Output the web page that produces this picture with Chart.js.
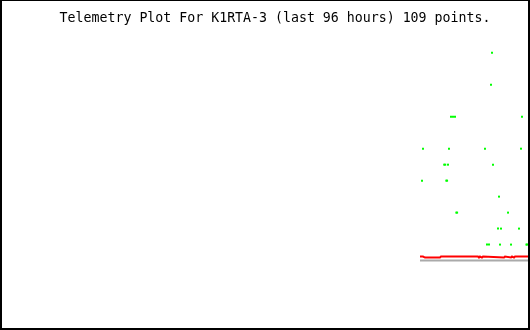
<!DOCTYPE html>
<html>
<head>
<meta charset="utf-8">
<script src="https://cdn.jsdelivr.net/npm/chart.js@4/dist/chart.umd.min.js"></script>
<style>
  body { margin: 0; background: #fff; }
  .frame {
    width: 530px; height: 330px; box-sizing: border-box;
    border: 2px solid #000; border-top-width: 1px; background: #fff;
  }
  canvas { display: block; }
</style>
</head>
<body>
<div class="frame"><canvas id="telemetry" width="526" height="327"></canvas></div>
<script>
// hours relative to now (last 96 hours)
const redHours = [-20.49, -19.92, -19.54, -16.70, -16.51, -9.49, -9.30, -9.11, -8.73, -8.54,
  -4.55, -4.36, -3.22, -3.03, -2.65, -2.46, 0];
const redValues = [0.25, 0.25, 0.19, 0.19, 0.25, 0.25, 0.19, 0.25, 0.19, 0.25,
  0.19, 0.25, 0.19, 0.25, 0.19, 0.25, 0.25];

const greyHours = [-20.49, 0];
const greyValues = [0, 0];

const greenHours = [-6.83, -7.02, -14.61, -14.23, -13.85, -1.14,
  -19.92, -14.99, -8.16, -1.33,
  -15.9, -15.7, -15.18, -6.64,
  -20.11, -15.5, -15.35,
  -5.5,
  -13.6, -13.45, -3.79,
  -5.69, -5.12, -1.71,
  -7.78, -7.4, -5.31, -3.22, -0.3, -0.15];
const greenValues = [13, 11, 9, 9, 9, 9,
  7, 7, 7, 7,
  6, 6, 6, 6,
  5, 5, 5,
  4,
  3, 3, 3,
  2, 2, 2,
  1, 1, 1, 1, 1, 1];

function toPoints(xs, ys) {
  return xs.map((x, i) => ({ x: x, y: ys[i] }));
}

const ctx = document.getElementById('telemetry').getContext('2d');
new Chart(ctx, {
  type: 'scatter',
  data: {
    datasets: [
      {
        label: 'baseline',
        data: toPoints(greyHours, greyValues),
        showLine: true,
        borderColor: '#aaaaaa',
        borderWidth: 2,
        pointRadius: 0
      },
      {
        label: 'red',
        data: toPoints(redHours, redValues),
        showLine: true,
        borderColor: '#ff0000',
        borderWidth: 2,
        pointRadius: 0,
        tension: 0
      },
      {
        label: 'green',
        data: toPoints(greenHours, greenValues),
        showLine: false,
        pointStyle: 'rect',
        pointRadius: 1.4,
        pointBorderWidth: 0,
        backgroundColor: '#00ff00',
        borderColor: '#00ff00'
      }
    ]
  },
  options: {
    responsive: false,
    animation: false,
    devicePixelRatio: 1,
    layout: { autoPadding: false, padding: { left: 20, right: 0, top: 0, bottom: 0 } },
    scales: {
      x: { type: 'linear', min: -96, max: 0, display: false },
      y: { type: 'linear', min: -4.219, max: 14.119, display: false }
    },
    plugins: {
      legend: { display: false },
      tooltip: { enabled: false },
      title: {
        display: true,
        text: 'Telemetry Plot For K1RTA-3 (last 96 hours) 109 points.',
        color: '#000',
        font: { family: '"DejaVu Sans Mono", monospace', size: 13.25, weight: 'normal', lineHeight: 1.2 },
        padding: { top: 9.5, bottom: 8.5 }
      }
    }
  }
});
</script>
</body>
</html>
